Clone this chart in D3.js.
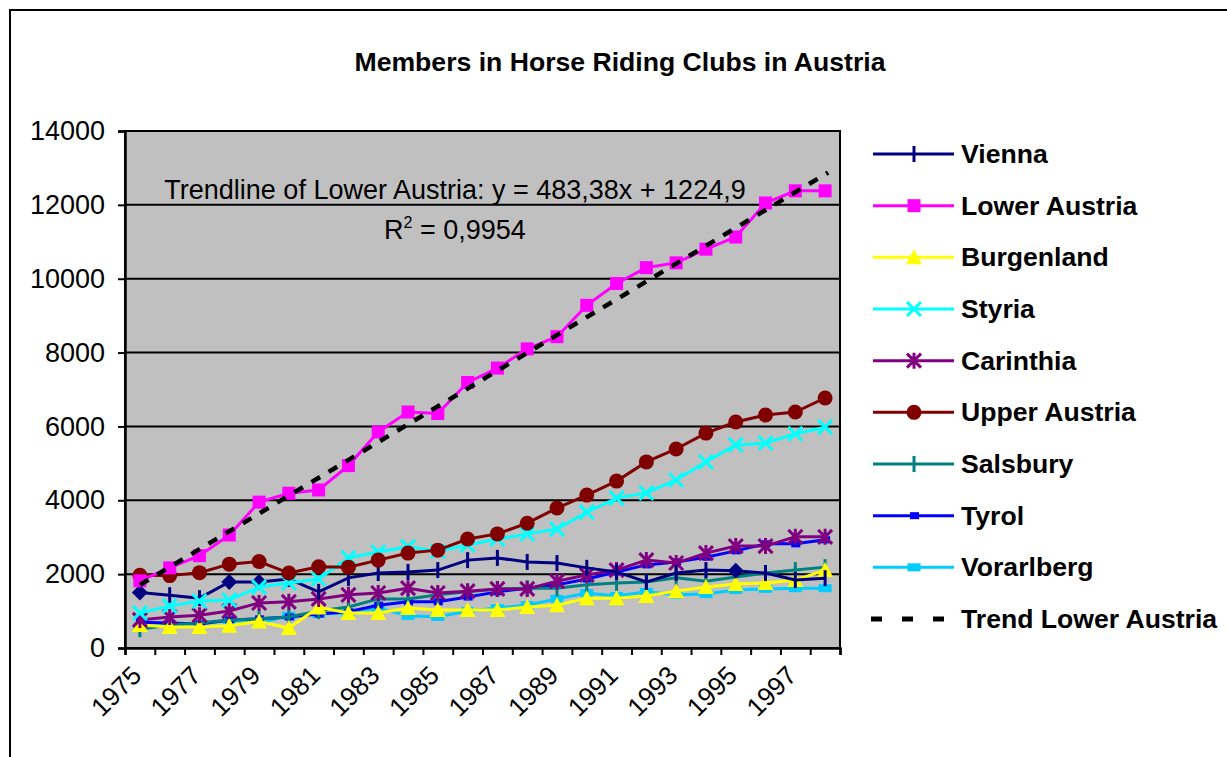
<!DOCTYPE html>
<html>
<head>
<meta charset="utf-8">
<script src="https://cdn.jsdelivr.net/npm/d3@7"></script>
<style>
  body { margin: 0; background: #fff; }
  svg { display: block; font-family: "Liberation Sans", Arial, sans-serif; }
</style>
</head>
<body>
<svg id="chart" width="1227" height="757"></svg>
<script>
// years on the category axis
var years = d3.range(1975, 1999);
var yearLabels = [1975, 1977, 1979, 1981, 1983, 1985, 1987, 1989, 1991, 1993, 1995, 1997];
var yTicks = [0, 2000, 4000, 6000, 8000, 10000, 12000, 14000];

// members per federal state, 1975..1998
var vienna       = [1500, 1430, 1350, 1790, 1790, 1870, 1520, 1900, 2030, 2060, 2110, 2380, 2440, 2330, 2300, 2170, 2060, 1790, 2030, 2110, 2090, 2030, 1840, 1890];
var lowerAustria = [1820, 2170, 2500, 3060, 3950, 4190, 4280, 4940, 5850, 6390, 6350, 7190, 7580, 8100, 8430, 9280, 9870, 10300, 10430, 10800, 11130, 12050, 12380, 12380];
var burgenland   = [620, 570, 570, 600, 720, 540, 1100, 950, 950, 1080, 1030, 1030, 1030, 1110, 1160, 1350, 1350, 1410, 1540, 1650, 1730, 1760, 1840, 2110];
var styria       = [950, 1140, 1270, 1300, 1650, 1760, 1870, 2440, 2600, 2740, 2620, 2790, 2950, 3090, 3220, 3680, 4060, 4200, 4550, 5040, 5500, 5550, 5800, 5980];
var carinthia    = [760, 840, 890, 1000, 1220, 1250, 1330, 1440, 1490, 1620, 1490, 1540, 1600, 1600, 1810, 1980, 2110, 2380, 2300, 2570, 2760, 2760, 3010, 3010];
var upperAustria = [1970, 1960, 2040, 2270, 2340, 2030, 2200, 2190, 2380, 2570, 2650, 2950, 3090, 3380, 3790, 4140, 4520, 5040, 5390, 5820, 6120, 6310, 6390, 6770];
var salsbury     = [510, 620, 680, 760, 790, 840, 1000, 1110, 1330, 1330, 1440, 1520, 1600, 1620, 1620, 1710, 1760, 1790, 1900, 1810, 1920, 2030, 2110, 2190];
var tyrol        = [700, 680, 650, 760, 790, 840, 920, 980, 1160, 1250, 1250, 1380, 1520, 1620, 1710, 1870, 2060, 2250, 2330, 2460, 2630, 2820, 2820, 2930];
var vorarlberg   = [570, 650, 650, 760, 680, 870, 920, 950, 1080, 870, 840, 1000, 1080, 1160, 1330, 1490, 1410, 1520, 1440, 1460, 1570, 1600, 1620, 1620];
// Vienna points drawn as diamonds instead of ticks
var viennaDiamondYears = [1975, 1978, 1979, 1995];

// linear trend of Lower Austria as printed on the chart
var trendSlope = 483.38,
    trendIntercept = 1224.9;

var seriesNames = ["Vienna", "Lower Austria", "Burgenland", "Styria", "Carinthia", "Upper Austria", "Salsbury", "Tyrol", "Vorarlberg"];
var seriesValues = [vienna, lowerAustria, burgenland, styria, carinthia, upperAustria, salsbury, tyrol, vorarlberg];
var seriesColors = ["#000080", "#ff00ff", "#ffff00", "#00ffff", "#800080", "#800000", "#008080", "#0000ff", "#00ccff"];
var seriesMarkers = ["tick", "square", "triangle", "cross", "star", "circle", "tick", "smallrect", "rect"];

var svg = d3.select("#chart");

var plotLeft = 125, plotRight = 840, plotTop = 131, plotBottom = 648;
var font = "27px 'Liberation Sans', Arial, sans-serif",
    boldFont = "bold 26.6px 'Liberation Sans', Arial, sans-serif";

var x = d3.scaleBand()
    .domain(years)
    .range([plotLeft, plotRight])
    .padding(0);

var xEdge = d3.scaleLinear()
    .domain([0, years.length])
    .range([plotLeft, plotRight]);

var y = d3.scaleLinear()
    .domain([0, 14000])
    .range([plotBottom, plotTop]);

var cx = d => x(d) + x.bandwidth() / 2;

// outer chart frame
svg.append("path")
    .attr("d", "M10,757 L10,10 L1227,10")
    .attr("fill", "none")
    .attr("stroke", "#000")
    .attr("stroke-width", 2);

// title
svg.append("text")
    .attr("x", 620)
    .attr("y", 71)
    .attr("text-anchor", "middle")
    .style("font", boldFont)
    .text("Members in Horse Riding Clubs in Austria");

// plot area
svg.append("rect")
    .attr("x", plotLeft)
    .attr("y", plotTop)
    .attr("width", plotRight - plotLeft)
    .attr("height", plotBottom - plotTop)
    .attr("fill", "#c0c0c0");

svg.append("g")
    .selectAll("line")
    .data(yTicks.slice(1))
  .enter().append("line")
    .attr("x1", plotLeft)
    .attr("x2", plotRight)
    .attr("y1", d => y(d))
    .attr("y2", d => y(d))
    .attr("stroke", "#000")
    .attr("stroke-width", 2);

svg.append("rect")
    .attr("x", plotLeft)
    .attr("y", plotTop)
    .attr("width", plotRight - plotLeft)
    .attr("height", plotBottom - plotTop)
    .attr("fill", "none")
    .attr("stroke", "#000")
    .attr("stroke-width", 2);

// y axis
var yAxis = svg.append("g")
    .attr("transform", "translate(" + plotLeft + ",0)")
    .call(d3.axisLeft(y).tickValues(yTicks).tickSize(7).tickPadding(13).tickFormat(d3.format("d")));
yAxis.select(".domain").attr("stroke-width", 2.5);
yAxis.selectAll(".tick line").attr("stroke-width", 2);
yAxis.selectAll("text")
    .style("font", font)
    .attr("fill", "#000");

// x axis: ticks on category edges
var xAxis = svg.append("g")
    .attr("transform", "translate(0," + plotBottom + ")")
    .call(d3.axisBottom(xEdge).tickValues(d3.range(0, years.length + 1)).tickSize(7).tickFormat(""));
xAxis.select(".domain").attr("stroke-width", 2.5);
xAxis.selectAll(".tick line").attr("stroke-width", 2);

svg.append("g")
    .selectAll("text")
    .data(yearLabels)
  .enter().append("text")
    .attr("transform", d => "translate(" + (cx(d) + 3) + "," + (plotBottom + 29) + ") rotate(-45)")
    .attr("text-anchor", "end")
    .style("font", "26px 'Liberation Sans', Arial, sans-serif")
    .text(d => d);

// markers
function drawMarker(g, type, color, px, py) {
  if (type == "square") {
    g.append("rect").attr("x", px - 6.5).attr("y", py - 6.5).attr("width", 13).attr("height", 13).attr("fill", color);
  } else if (type == "circle") {
    g.append("circle").attr("cx", px).attr("cy", py).attr("r", 7.5).attr("fill", color);
  } else if (type == "triangle") {
    g.append("path").attr("d", "M" + px + "," + (py - 8) + "L" + (px + 8) + "," + (py + 7) + "L" + (px - 8) + "," + (py + 7) + "Z").attr("fill", color);
  } else if (type == "diamond") {
    g.append("path").attr("d", "M" + px + "," + (py - 8) + "L" + (px + 8) + "," + py + "L" + px + "," + (py + 8) + "L" + (px - 8) + "," + py + "Z").attr("fill", color);
  } else if (type == "cross") {
    g.append("path").attr("d", "M" + (px - 7) + "," + (py - 7) + "L" + (px + 7) + "," + (py + 7) + "M" + (px + 7) + "," + (py - 7) + "L" + (px - 7) + "," + (py + 7))
        .attr("stroke", color).attr("stroke-width", 3).attr("fill", "none");
  } else if (type == "star") {
    g.append("path").attr("d", "M" + (px - 7) + "," + (py - 7) + "L" + (px + 7) + "," + (py + 7) + "M" + (px + 7) + "," + (py - 7) + "L" + (px - 7) + "," + (py + 7) + "M" + px + "," + (py - 8) + "L" + px + "," + (py + 8))
        .attr("stroke", color).attr("stroke-width", 3).attr("fill", "none");
  } else if (type == "tick") {
    g.append("path").attr("d", "M" + px + "," + (py - 8) + "L" + px + "," + (py + 8))
        .attr("stroke", color).attr("stroke-width", 3).attr("fill", "none");
  } else if (type == "smallrect") {
    g.append("rect").attr("x", px - 4).attr("y", py - 3.5).attr("width", 9).attr("height", 7).attr("fill", color);
  } else if (type == "rect") {
    g.append("rect").attr("x", px - 6.5).attr("y", py - 4).attr("width", 13).attr("height", 8).attr("fill", color);
  }
}

var line = d3.line()
    .x((d, i) => cx(years[i]))
    .y(d => y(d));

// draw series (lower states first so Lower Austria sits on top)
var drawOrder = [8, 7, 6, 2, 4, 0, 3, 5, 1];
drawOrder.forEach(function(s) {
  var g = svg.append("g").attr("class", "series");
  g.append("path")
      .datum(seriesValues[s])
      .attr("d", line)
      .attr("fill", "none")
      .attr("stroke", seriesColors[s])
      .attr("stroke-width", 3);
  seriesValues[s].forEach(function(v, i) {
    var type = seriesMarkers[s];
    if (s == 0 && viennaDiamondYears.indexOf(years[i]) >= 0) type = "diamond";
    drawMarker(g, type, seriesColors[s], cx(years[i]), y(v));
  });
});

// trend line for Lower Austria
svg.append("line")
    .attr("x1", cx(years[0]))
    .attr("y1", y(trendSlope * 1 + trendIntercept))
    .attr("x2", cx(years[years.length - 1]) + 3)
    .attr("y2", y(trendSlope * (years.length + 0.1) + trendIntercept))
    .attr("stroke", "#000")
    .attr("stroke-width", 4.5)
    .attr("stroke-dasharray", "10,10");

// trend label
svg.append("text")
    .attr("x", 455)
    .attr("y", 199)
    .attr("text-anchor", "middle")
    .style("font", font)
    .text("Trendline of Lower Austria: y = 483,38x + 1224,9");

var r2 = svg.append("text")
    .attr("x", 455)
    .attr("y", 239)
    .attr("text-anchor", "middle")
    .style("font", font);
r2.append("tspan").text("R");
r2.append("tspan").attr("dy", -11).style("font-size", "16px").text("2");
r2.append("tspan").attr("dy", 11).text(" = 0,9954");

// legend
var legend = svg.append("g").attr("class", "legend");
var legendY = d3.scaleLinear().domain([0, 9]).range([154, 619]);

seriesNames.forEach(function(name, i) {
  var ly = legendY(i);
  var g = legend.append("g");
  g.append("line")
      .attr("x1", 873).attr("x2", 954)
      .attr("y1", ly).attr("y2", ly)
      .attr("stroke", seriesColors[i])
      .attr("stroke-width", 3);
  drawMarker(g, seriesMarkers[i], seriesColors[i], 914, ly);
  g.append("text")
      .attr("x", 961)
      .attr("y", ly + 9)
      .style("font", boldFont)
      .text(name);
});

legend.append("line")
    .attr("x1", 871).attr("x2", 945)
    .attr("y1", legendY(9)).attr("y2", legendY(9))
    .attr("stroke", "#000")
    .attr("stroke-width", 5)
    .attr("stroke-dasharray", "11,20");
legend.append("text")
    .attr("x", 961)
    .attr("y", legendY(9) + 9)
    .style("font", boldFont)
    .text("Trend Lower Austria");
</script>
</body>
</html>
